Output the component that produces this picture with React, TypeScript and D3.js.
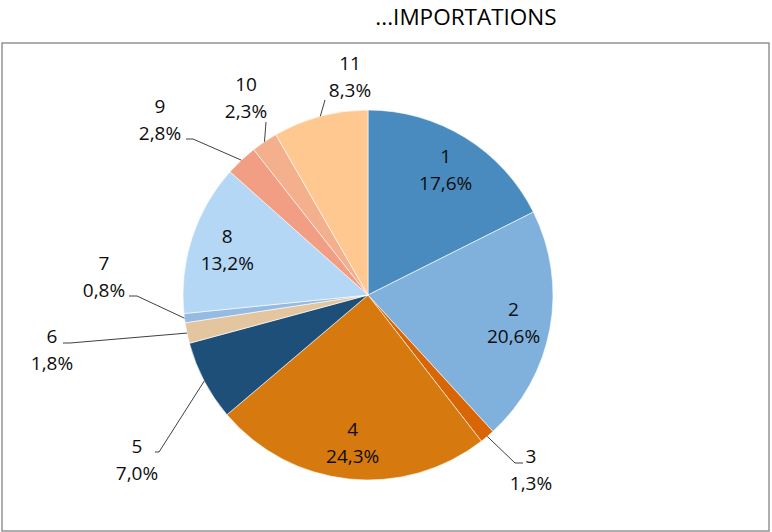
import * as d3 from "d3";

// Import shares by category (percent), clockwise from 12 o'clock
const categories = ["1", "2", "3", "4", "5", "6", "7", "8", "9", "10", "11"];
const shares = [17.6, 20.6, 1.3, 24.3, 7.0, 1.8, 0.8, 13.2, 2.8, 2.3, 8.3];
const sliceColors = [
  "#498BBF", "#7FB1DC", "#D96606", "#D6790F", "#1E4F79", "#E3C6A0",
  "#95BBE3", "#B4D7F6", "#F19E84", "#F4AF8C", "#FFC891",
];
const title = "...IMPORTATIONS";

// Excel "best fit" places these labels outside with leader lines
// offsets relative to pie centre: text centre/first baseline, leader elbow, leader end
const outsideLabels: Record<string, { tx: number; ty: number; pts: [number, number][] }> = {
  "3": { tx: 163, ty: 168, pts: [[147, 168], [155, 168]] },
  "5": { tx: -231, ty: 158, pts: [[-209, 157], [-213, 157]] },
  "6": { tx: -316, ty: 48, pts: [[-298, 48], [-305, 48]] },
  "7": { tx: -264, ty: -25, pts: [[-231, 1], [-239, 1]] },
  "9": { tx: -208, ty: -182, pts: [[-175, -156], [-182, -156]] },
  "10": { tx: -122, ty: -204, pts: [[-102, -173]] },
  "11": { tx: -18, ty: -225, pts: [[-43, -195]] },
};

const W = 772;
const H = 532;
const cx = 368;
const cy = 295;
const radius = 185;
const lineGap = 27;
const font = "'Open Sans', 'DejaVu Sans', sans-serif";

const fmt = (v: number) => v.toFixed(1).replace(".", ",") + "%";

export default function App() {
  const color = d3.scaleOrdinal<string, string>().domain(categories).range(sliceColors);

  const pie = d3
    .pie<number>()
    .sort(null)
    .value((d) => d);
  const arcs = pie(shares);

  const arc = d3.arc<d3.PieArcDatum<number>>().innerRadius(0).outerRadius(radius);
  const labelArc = d3
    .arc<d3.PieArcDatum<number>>()
    .innerRadius(radius * 0.8)
    .outerRadius(radius * 0.8);
  const edgeArc = d3.arc<d3.PieArcDatum<number>>().innerRadius(radius).outerRadius(radius);

  return (
    <svg
      width={W}
      height={H}
      style={{ position: "absolute", left: 0, top: 0, background: "#fff" }}
    >
      <text
        x={466}
        y={25}
        textAnchor="middle"
        fontFamily={font}
        fontSize={22.5}
        fill="#000"
      >
        {title}
      </text>
      <rect x={2} y={43} width={767} height={488} fill="none" stroke="#8c8c8c" strokeWidth={1.4} />

      <g transform={`translate(${cx},${cy})`}>
        {arcs.map((a, i) => (
          <path
            key={categories[i]}
            d={arc(a) ?? ""}
            fill={color(categories[i])}
            stroke="#ffffff"
            strokeWidth={0.6}
          />
        ))}

        {arcs.map((a, i) => {
          const cat = categories[i];
          const out = outsideLabels[cat];
          if (out) {
            const [ex, ey] = edgeArc.centroid(a);
            const path = d3.line()([[ex, ey], ...out.pts]) ?? "";
            return (
              <g key={"l" + cat}>
                <path d={path} fill="none" stroke="#404040" strokeWidth={1} />
                <text
                  x={out.tx}
                  y={out.ty}
                  textAnchor="middle"
                  fontFamily={font}
                  fontSize={19}
                  fill="#0d0d0d"
                >
                  <tspan x={out.tx}>{cat}</tspan>
                  <tspan x={out.tx} dy={lineGap}>
                    {fmt(shares[i])}
                  </tspan>
                </text>
              </g>
            );
          }
          const [lx, ly] = labelArc.centroid(a);
          return (
            <text
              key={"l" + cat}
              x={lx}
              y={ly - 6}
              textAnchor="middle"
              fontFamily={font}
              fontSize={19}
              fill="#0d0d0d"
            >
              <tspan x={lx}>{cat}</tspan>
              <tspan x={lx} dy={lineGap}>
                {fmt(shares[i])}
              </tspan>
            </text>
          );
        })}
      </g>
    </svg>
  );
}
